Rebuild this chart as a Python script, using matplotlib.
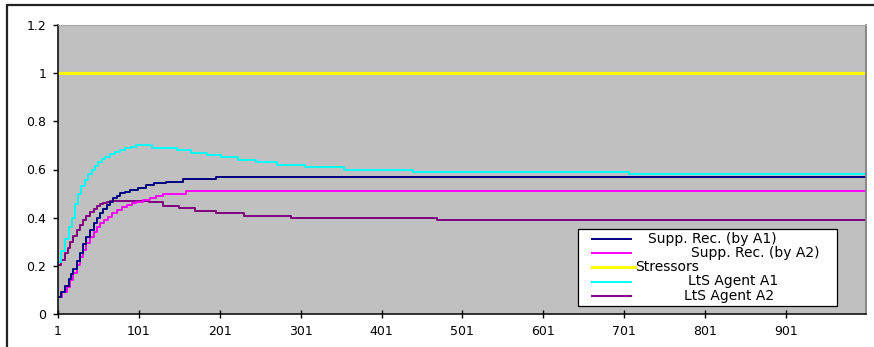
import matplotlib
matplotlib.use("Agg")
import matplotlib.pyplot as plt
from matplotlib.lines import Line2D
from matplotlib.patches import Rectangle

plt.rcParams['font.family'] = ['DejaVu Sans']

W, H = 874, 347
X_END = 1000

# step series: (x where value changes, value)
supp_a1_x = [1, 5, 10, 14, 17, 20, 24, 28, 32, 36, 40, 45, 49, 53, 57, 61, 65, 69,
             74, 78, 84, 90, 100, 110, 120, 135, 155, 196]
supp_a1_y = [0.072, 0.09, 0.115, 0.145, 0.165, 0.185, 0.22, 0.252, 0.29, 0.32, 0.35,
             0.376, 0.40, 0.418, 0.436, 0.453, 0.467, 0.480, 0.492, 0.501, 0.508,
             0.515, 0.525, 0.536, 0.543, 0.550, 0.562, 0.570]

supp_a2_x = [1, 6, 12, 16, 20, 24, 28, 32, 36, 40, 45, 49, 53, 58, 63, 68, 74, 80,
             86, 92, 98, 106, 115, 122, 131, 159]
supp_a2_y = [0.072, 0.09, 0.113, 0.14, 0.169, 0.205, 0.238, 0.265, 0.294, 0.32, 0.342,
             0.36, 0.376, 0.39, 0.404, 0.418, 0.432, 0.443, 0.453, 0.46, 0.466,
             0.473, 0.480, 0.491, 0.50, 0.511]

stress_x = [1]
stress_y = [1.0]

lts_a1_x = [1, 5, 10, 14, 18, 22, 26, 30, 34, 38, 43, 47, 51, 55, 59, 65, 72, 78,
            84, 91, 98, 117, 148, 166, 185, 203, 224, 246, 272, 307, 354, 440, 707]
lts_a1_y = [0.217, 0.26, 0.31, 0.36, 0.40, 0.455, 0.50, 0.53, 0.556, 0.58, 0.60,
            0.615, 0.632, 0.643, 0.653, 0.664, 0.674, 0.682, 0.688, 0.695, 0.702,
            0.691, 0.681, 0.670, 0.660, 0.651, 0.640, 0.630, 0.620, 0.612, 0.598,
            0.590, 0.582]

lts_a2_x = [1, 5, 10, 13, 16, 20, 24, 28, 32, 36, 41, 45, 49, 53, 57, 61, 65, 113,
            131, 151, 170, 196, 231, 289, 470]
lts_a2_y = [0.203, 0.225, 0.252, 0.275, 0.30, 0.325, 0.349, 0.37, 0.39, 0.408, 0.425,
            0.437, 0.448, 0.455, 0.462, 0.467, 0.471, 0.464, 0.450, 0.441, 0.428,
            0.421, 0.408, 0.400, 0.392]

labels = ["Supp. Rec. (by A1)", "Supp. Rec. (by A2)", "Stressors",
          "LtS Agent A1", "LtS Agent A2"]
colors = ["#000080", "#FF00FF", "#FFFF00", "#00FFFF", "#800080"]
widths = [1.4, 1.4, 2.2, 1.4, 1.4]
series = [(supp_a1_x, supp_a1_y), (supp_a2_x, supp_a2_y), (stress_x, stress_y),
          (lts_a1_x, lts_a1_y), (lts_a2_x, lts_a2_y)]

xticks = [1, 101, 201, 301, 401, 501, 601, 701, 801, 901]
yticks = [0, 0.2, 0.4, 0.6, 0.8, 1, 1.2]
ytick_labels = ["0", "0.2", "0.4", "0.6", "0.8", "1", "1.2"]


def fx(px):
    return px / W


def fy(py):
    return 1 - py / H


fig = plt.figure(figsize=(W / 100, H / 100), dpi=100)
fig.patch.set_facecolor("white")
ax = fig.add_axes([fx(58), fy(314), fx(866) - fx(58), fy(25) - fy(314)])
ax.set_facecolor("#C0C0C0")

# draw in reverse so the first series sits on top
for (xs, ys), c, lw in reversed(list(zip(series, colors, widths))):
    ax.plot(xs + [X_END], ys + [ys[-1]], color=c, lw=lw, drawstyle="steps-post")

ax.set_xlim(1, X_END)
ax.set_ylim(0, 1.2)
ax.set_xticks(xticks)
ax.set_xticklabels([str(t) for t in xticks])
ax.set_yticks(yticks)
ax.set_yticklabels(ytick_labels)
ax.tick_params(axis="x", direction="inout", length=6, width=1, pad=5, labelsize=9)
ax.tick_params(axis="y", direction="out", length=3.8, width=1, pad=4.5, labelsize=9)
ax.spines["left"].set_linewidth(1.1)
ax.spines["bottom"].set_linewidth(1.1)
ax.spines["right"].set_color("#808080")
ax.spines["right"].set_linewidth(1.3)
ax.spines["top"].set_color("#A8A8A8")
ax.spines["top"].set_linewidth(0.8)

# chart border
fig.add_artist(Rectangle((fx(7), fy(352)), fx(876) - fx(7), fy(5) - fy(352),
                         transform=fig.transFigure, fill=False, ec="#222222", lw=1.6))

# legend box with Excel-like label offsets
fig.add_artist(Rectangle((fx(578), fy(306)), fx(837) - fx(578), fy(229) - fy(306),
                         transform=fig.transFigure, fc="white", ec="black", lw=0.9,
                         zorder=5))
rows = [238.5, 252.5, 267, 281.5, 296]
text_x = [648, 691, 635.5, 688, 684]
handle_end = [631, 631, 635, 631, 631]
for lab, c, lw, ry, tx, he in zip(labels, colors, widths, rows, text_x, handle_end):
    fig.add_artist(Line2D([fx(592), fx(he)], [fy(ry), fy(ry)], color=c, lw=lw,
                          transform=fig.transFigure, zorder=6))
    fig.text(fx(tx), fy(ry), lab, fontsize=10, va="center", ha="left", zorder=6)

fig.savefig("out.png", dpi=100)
